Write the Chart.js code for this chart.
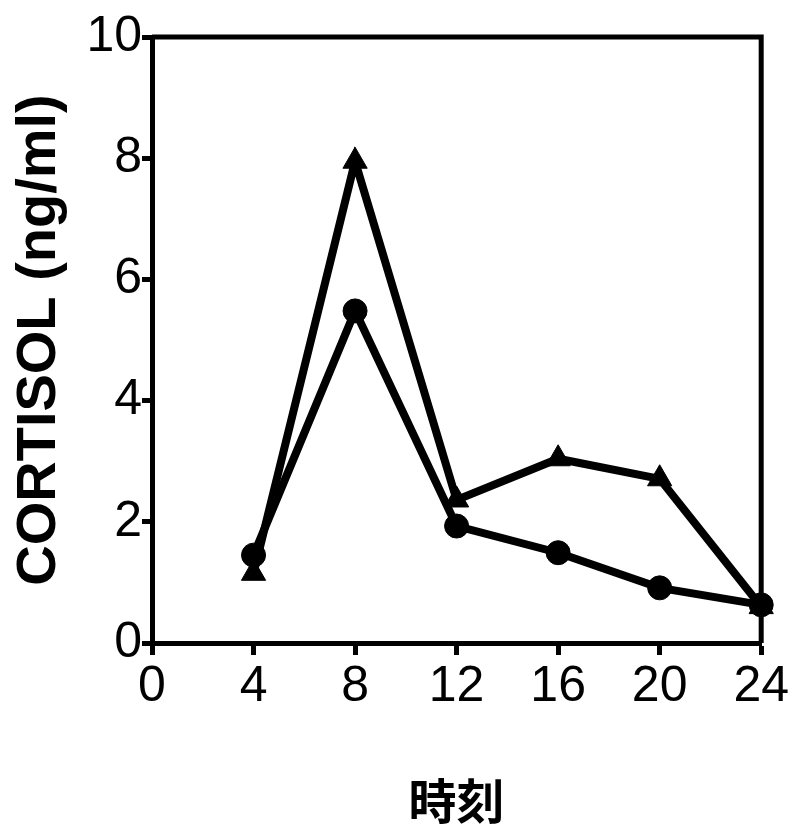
<!DOCTYPE html>
<html>
<head>
<meta charset="utf-8">
<script src="https://cdn.jsdelivr.net/npm/chart.js@4"></script>
<style>
  html, body { margin: 0; padding: 0; background: #fff; }
  #wrap { width: 791px; height: 830px; }
</style>
</head>
<body>
<div id="wrap"><canvas id="myChart"></canvas></div>
<script>
// data
const hours = [4, 8, 12, 16, 20, 24];
const circleSeries = [1.45, 5.48, 1.93, 1.49, 0.91, 0.63];
const triangleSeries = [1.15, 7.95, 2.36, 3.04, 2.71, 0.6];
const xTicks = [0, 4, 8, 12, 16, 20, 24];
const yTicks = [0, 2, 4, 6, 8, 10];

function toPoints(xs, ys) {
  return xs.map((x, i) => ({ x: x, y: ys[i] }));
}

// draws the top and right frame lines
const frame = {
  id: "frame",
  afterDatasetsDraw(chart) {
    const a = chart.chartArea;
    const ctx = chart.ctx;
    ctx.save();
    ctx.strokeStyle = "#000";
    ctx.lineWidth = 5;
    ctx.beginPath();
    ctx.moveTo(a.left, a.top);
    ctx.lineTo(a.right, a.top);
    ctx.lineTo(a.right, a.bottom);
    ctx.stroke();
    ctx.restore();
  },
};

const data = {
  datasets: [
    {
      label: "triangle",
      data: toPoints(hours, triangleSeries),
      borderColor: "#000",
      backgroundColor: "#000",
      borderWidth: 8,
      pointStyle: "triangle",
      pointRadius: 14,
      pointBorderWidth: 1,
      tension: 0,
    },
    {
      label: "circle",
      data: toPoints(hours, circleSeries),
      borderColor: "#000",
      backgroundColor: "#000",
      borderWidth: 8,
      pointStyle: "circle",
      pointRadius: 12,
      pointBorderWidth: 1,
      tension: 0,
    },
  ],
};

const config = {
  type: "line",
  data,
  options: {
    responsive: false,
    animation: false,
    clip: false,
    layout: { padding: { top: 37, right: 28, left: 0, bottom: 0 } },
    plugins: { legend: { display: false }, tooltip: { enabled: false } },
    scales: {
      x: {
        type: "linear",
        min: 0,
        max: 24,
        afterBuildTicks: (s) => { s.ticks = xTicks.map((v) => ({ value: v })); },
        afterFit: (s) => { s.height = 187; },
        border: { color: "#000", width: 5 },
        grid: { drawOnChartArea: false, tickLength: 12, tickWidth: 5, tickColor: "#000" },
        ticks: { color: "#000", font: { family: "Liberation Sans", size: 50 }, padding: 2 },
        title: {
          display: true,
          text: "時刻",
          color: "#000",
          font: { family: "Noto Sans CJK JP", size: 48, weight: "bold" },
          padding: { top: 40, bottom: 0 },
        },
      },
      y: {
        min: 0,
        max: 10,
        afterBuildTicks: (s) => { s.ticks = yTicks.map((v) => ({ value: v })); },
        afterFit: (s) => { s.width = 152; },
        border: { color: "#000", width: 5 },
        grid: { drawOnChartArea: false, tickLength: 10, tickWidth: 5, tickColor: "#000" },
        ticks: { color: "#000", font: { family: "Liberation Sans", size: 50 }, padding: 0 },
        title: {
          display: true,
          text: "CORTISOL (ng/ml)",
          color: "#000",
          font: { family: "Liberation Sans", size: 56, weight: "bold" },
          padding: { top: 6, bottom: 10 },
        },
      },
    },
  },
  plugins: [frame],
};

const canvas = document.getElementById("myChart");
canvas.width = 791;
canvas.height = 830;
const myChart = new Chart(canvas, config);
</script>
</body>
</html>
